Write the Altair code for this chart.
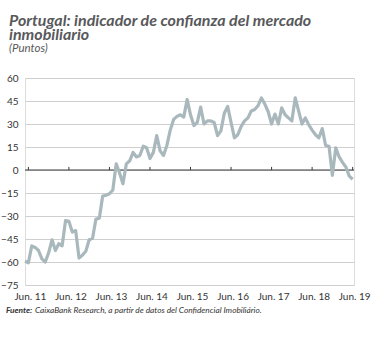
import altair as alt
import pandas as pd

# Monthly indicator, May 2011 .. Jun 2019 (points)
values = [
    -59.5, -60.5, -49.5, -50.5, -52.5, -58, -60, -54, -45.5, -52.5, -48, -49.5,
    -33, -33.5, -40.5, -39.5, -57.5, -55.5, -53, -45.5, -44.5, -32, -31.5, -17,
    -16.5, -15.5, -13, 4, -2, -9, 4, 6, 11.5, 8.5, 9.5, 15.5,
    14.5, 7.5, 11.5, 22.5, 12.5, 9.5, 16, 26, 33, 35, 36, 34.5,
    46, 36, 29, 31, 41, 30, 32, 32, 31, 22.5, 25.5, 37,
    41.5, 31, 21, 23, 28.5, 32, 34, 38.5, 39.5, 42, 47, 43,
    38, 30, 36.5, 30, 40.5, 36, 34, 32, 47, 38.5, 30, 34,
    29.5, 26, 23, 21, 27, 16, 15.5, -3.5, 14.5, 8.5, 5, 2,
    -4, -6,
]
months = list(range(len(values)))  # 0 = May 2011

tick_months = [1, 13, 25, 37, 49, 61, 73, 85, 97]
tick_labels = ["Jun. 11", "Jun. 12", "Jun. 13", "Jun. 14", "Jun. 15",
               "Jun. 16", "Jun. 17", "Jun. 18", "Jun. 19"]
y_ticks = [60, 45, 30, 15, 0, -15, -30, -45, -60, -75]

title_lines = ["Portugal: indicador de confianza del mercado", "inmobiliario"]
subtitle = "(Puntos)"
source_bold = "Fuente:"
source_rest = "CaixaBank Research, a partir de datos del Confidencial Imobiliário."

FONT = "Lato"
W, H = 329, 207

df = pd.DataFrame({"m": months, "v": values})
ticks_df = pd.DataFrame({"m": tick_months})

label_array = "[" + ",".join("'%s'" % t for t in tick_labels) + "]"

x_scale = alt.Scale(domain=[0, 97.4], nice=False, zero=False)
y_scale = alt.Scale(domain=[-75, 60], nice=False, zero=False)

x_axis = alt.Axis(values=tick_months, tickCount=len(tick_months) + 2, title=None,
                  grid=False, domain=False, ticks=False,
                  labelExpr=label_array + "[round((datum.value - 1) / 12)]",
                  labelFont=FONT, labelFontSize=10, labelColor="#333333",
                  labelPadding=6, labelOffset=1.5, labelOverlap=False,
                  labelFlush=False)
y_axis = alt.Axis(values=y_ticks, tickCount=len(y_ticks) + 2, title=None,
                  domain=False, ticks=False, grid=True,
                  gridColor="#cfcfcf", gridWidth=1, labelOverlap=False,
                  labelFont=FONT, labelFontSize=10, labelColor="#333333",
                  labelPadding=7)

line = alt.Chart(df).mark_line(color="#a9b8bc", strokeWidth=3.2, strokeJoin="round").encode(
    x=alt.X("m:Q", scale=x_scale, axis=x_axis),
    y=alt.Y("v:Q", scale=y_scale, axis=y_axis),
)

zero = alt.Chart(pd.DataFrame({"z": [0]})).mark_rule(color="#3a3a3a", strokeWidth=1).encode(
    y=alt.Y("z:Q", scale=y_scale, axis=y_axis)
)

tick_marks = alt.Chart(ticks_df).mark_rule(color="#3a3a3a", strokeWidth=1).encode(
    x=alt.X("m:Q", scale=x_scale, axis=x_axis),
    y=alt.datum(0),
    y2=alt.datum(2),
)

one = alt.Data(values=[{"a": 1}])

def txt(text, x, y, size, weight="normal", style="italic", color="#58595b", lh=None):
    kw = dict(text=text, font=FONT, fontSize=size, fontWeight=weight, fontStyle=style,
              color=color, align="left", baseline="alphabetic")
    if lh is not None:
        kw["lineHeight"] = lh
    return alt.Chart(one).mark_text(**kw).encode(x=alt.value(x), y=alt.value(y))

t1 = txt(title_lines, -16, -52, 16, "bold", lh=13.6)
t3 = txt(subtitle, -16, -26.3, 11.5)
f1 = txt(source_bold, -19, 235, 8.3, "bold", color="#333333")
f2 = txt(source_rest, 10, 235, 8.3, color="#333333")

chart = alt.layer(zero, line, tick_marks, t1, t3, f1, f2).properties(
    width=W, height=H,
    autosize=alt.AutoSizeParams(type="none"),
    padding={"left": 25, "top": 78, "right": 20, "bottom": 53},
).configure_view(stroke=None).configure(background="white")

chart.save("out.html", embed_options={"renderer": "svg", "actions": False})
